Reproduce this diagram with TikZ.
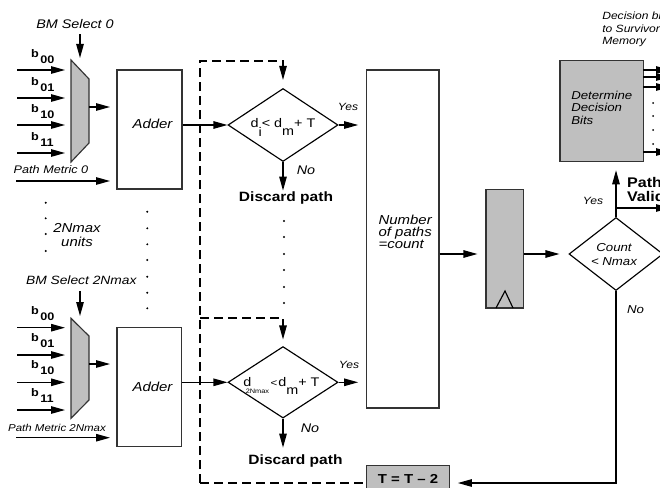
\documentclass[tikz,border=0pt]{standalone}
\usepackage{fontspec}
\setmainfont[FakeStretch=1.15]{Liberation Sans}
\usetikzlibrary{arrows.meta,shapes.geometric}
\newcommand\fsz[1]{\fontsize{#1}{#1}\selectfont}
\newcommand\fszl[2]{\fontsize{#1}{#2}\selectfont}

\begin{document}
\begin{tikzpicture}[x=1pt,y=-1pt,line width=1.15pt,
  >={Triangle[length=14pt,width=7.5pt]},
  dashline/.style={dash pattern=on 9pt off 5pt},
  blockw/.style={draw=black!80,fill=white,inner sep=0pt},
  blockg/.style={draw=black!80,fill=black!25,inner sep=0pt},
  muxshape/.style={draw=black!80,fill=black!25},
  decide/.style={draw=black,fill=white,diamond,inner sep=0pt},
  txt/.style={inner sep=0pt,font=\fsz{#1}\itshape},
  txt/.default=11,
  boldtxt/.style={inner sep=0pt,font=\fsz{#1}\bfseries},
  plaintxt/.style={inner sep=0pt,font=\fsz{#1}},
  dot/.style={fill=black}]

\useasboundingbox (0,0) rectangle (660,487);
\clip (0,0) rectangle (660,487);
\fill[white] (0,0) rectangle (660,487);

% ---------- first add unit ----------
\node[txt=12.5] (bms0) at (75,24) {BM Select 0};
\coordinate (mux0top) at (80,58);
\draw[->] ([xshift=5pt,yshift=-5pt]bms0.south) -- (mux0top);
\draw[muxshape] (71,60) -- (89,79) -- (89,143) -- (71,162) -- cycle;
\coordinate (mux0out) at (89,107);
\coordinate (add0in) at (110,107);
\draw[->] (mux0out) -- (add0in);
\foreach \y/\s in {70/00,98/01,125/10,153/11} {
  \coordinate (srcA\s) at (17,\y);
  \coordinate (dstA\s) at (65,\y);
  \draw[->] (srcA\s) -- (dstA\s);
  \node[boldtxt=11,anchor=base west] (labA\s) at (30.5,\y-13) {b\kern1.5pt\raisebox{-6pt}{\s}};
}
\node[txt=11] (pm0) at (51,170) {Path Metric 0};
\coordinate (pm0src) at (16,181);
\coordinate (pm0dst) at (110,181);
\draw[->] (pm0src) -- (pm0dst);
\node[blockw,minimum width=65pt,minimum height=119pt] (add0) at (149.5,129.5) {};
\node[txt=13] (add0t) at (152.5,124) {Adder};

% ---------- last add unit ----------
\node[txt=12] (bms1) at (81.3,280) {BM Select 2Nmax};
\coordinate (mux1top) at (80,316);
\draw[->] ([xshift=-1.3pt,yshift=-6pt]bms1.south) -- (mux1top);
\draw[muxshape] (71,318.3) -- (89,336) -- (89,400) -- (71,418.3) -- cycle;
\coordinate (mux1out) at (89,364);
\coordinate (add1in) at (110,364);
\draw[->] (mux1out) -- (add1in);
\foreach \y/\s in {327.7/00,355/01,382.3/10,410/11} {
  \coordinate (srcB\s) at (17,\y);
  \coordinate (dstB\s) at (65,\y);
  \draw[->] (srcB\s) -- (dstB\s);
  \node[boldtxt=11,anchor=base west] (labB\s) at (30.5,\y-13.5) {b\kern1.5pt\raisebox{-6pt}{\s}};
}
\node[txt=10] (pm1) at (57,428.3) {Path Metric 2Nmax};
\coordinate (pm1src) at (16,437.7);
\coordinate (pm1dst) at (110,437.7);
\draw[->] (pm1src) -- (pm1dst);
\node[blockw,minimum width=64.7pt,minimum height=119pt] (add1) at (149.35,387.2) {};
\node[txt=13] (add1t) at (152.5,387.3) {Adder};

% ellipsis between the units
\node[align=center,font=\fszl{13}{14}\itshape,inner sep=0pt] (units) at (77,234.7) {2Nmax\\units};
\foreach \y in {202.7,218.3,234,251} \fill[dot] (45.7,\y) circle (1.1pt);
\foreach \y in {211.7,228.3,244.3,260,276.7,292.7,308.3} \fill[dot] (147.3,\y) circle (1.1pt);
\foreach \y in {221,237,254,270,287,303} \fill[dot] (284,\y) circle (1.1pt);

% ---------- threshold comparisons ----------
\node[decide,minimum width=110pt,minimum height=73pt] (d0) at (283,125) {};
\node[plaintxt=12.5,anchor=base west] (d0t) at (250,127.3)
  {d\raisebox{-9pt}{i}< d\raisebox{-8.5pt}{m}+ T};
\node[decide,minimum width=110pt,minimum height=71.5pt] (d1) at (283,382.3) {};
\node[plaintxt=12.5,anchor=base west] (d1t) at (242.7,386)
  {d\kern-5.5pt\raisebox{-7pt}{\fsz{6.4}2Nmax}\kern1.5pt{\fsz{10}<}\kern1pt d\raisebox{-8pt}{m}+ T};

\draw[->] (add0.east |- d0.west) -- (d0.west);
\draw[->] (add1.east |- d1.west) -- (d1.west);

\node[txt=10.5] (yes0) at (348,107) {Yes};
\node[txt=10.5] (yes1) at (349,365) {Yes};
\node[txt=12.5] (no0) at (306,170) {No};
\node[txt=12.5] (no1) at (310,428) {No};
\node[boldtxt=13.5] (disc0) at (286,198) {Discard path};
\node[boldtxt=13.5] (disc1) at (295.5,461) {Discard path};
\draw[->] (d0.south) -- ++(0,28.5);
\draw[->] (d1.south) -- ++(0,29);

% ---------- path counter ----------
\node[blockw,minimum width=72.3pt,minimum height=338pt] (num) at (402.85,239) {};
\node[anchor=west,align=left,font=\fszl{13}{11.8}\itshape,inner sep=0pt] (numt) at (378,232) {Number\\of paths\\=count};
\draw[->,shorten >=8pt] (d0.east) -- (num.west |- d0.east);
\draw[->,shorten >=8pt] (d1.east) -- (num.west |- d1.east);

% ---------- threshold update loop ----------
\node[blockg,minimum width=82.6pt,minimum height=34.3pt] (tbox) at (408,483) {};
\node[boldtxt=13] (tboxt) at (408,478.5) {T = T -- 2};
\coordinate (dA) at (200,61);
\coordinate (dB) at (200,318);
\coordinate (dC) at (200,483);
\draw[dashline,->] (dC) -- (dA) -- (d0.north |- dA) -- ([yshift=8pt]d0.north);
\draw[dashline,->] (dB) -- (d1.north |- dB) -- ([yshift=6.5pt]d1.north);
\draw[dashline] (dC) -- (tbox.west |- dC);

% ---------- register and count check ----------
\node[blockg,minimum width=37.3pt,minimum height=118.7pt] (reg) at (504.65,248.65) {};
\draw (496,308) -- (505,291) -- (513,308);
\node[decide,minimum width=94pt,minimum height=73pt] (cnt) at (616,254) {};
\node[align=center,font=\fszl{11.5}{14}\itshape,inner sep=0pt] (cntt) at (614,255) {Count\\< Nmax};
\draw[->,shorten >=8pt] (num.east |- cnt.west) -- (reg.west |- cnt.west);
\draw[->,shorten >=9pt] (reg.east |- cnt.west) -- (cnt.west);

\node[txt=10.5] (yes2) at (593,201) {Yes};
\node[txt=11.5] (no2) at (635.5,310) {No};
\draw[->,shorten >=8pt] (cnt.south) -- (cnt.south |- dC) -- (tbox.east |- dC);

% ---------- decision bits ----------
\node[blockg,minimum width=83.3pt,minimum height=101pt] (det) at (601.65,111.2) {};
\node[anchor=west,align=left,font=\fszl{11.5}{12.8}\itshape,inner sep=0pt] (dett) at (570.7,107.8) {Determine\\Decision\\Bits};
\draw[->,shorten >=8pt] (cnt.north) -- (det.south -| cnt.north);
\coordinate (pv) at (616,208);
\coordinate (pvend) at (670,208);
\draw[->] (pv) -- (pvend);
\node[anchor=west,align=left,font=\fszl{14}{14}\bfseries,inner sep=0pt] (pvt) at (626.5,189) {Path\\Valid};
\foreach \y in {70,77,87,152} {
  \coordinate (dsrc\y) at (643.3,\y);
  \coordinate (ddst\y) at (670,\y);
  \draw[->] (dsrc\y) -- (ddst\y);
}
\foreach \y in {103,116,130,144} \fill[dot] (653,\y) circle (1pt);
\node[anchor=west,align=left,font=\fszl{10.5}{12.5}\itshape,inner sep=0pt] (dect) at (601.7,29.5) {Decision bits\\to Survivor\\Memory};

\end{tikzpicture}
\end{document}
